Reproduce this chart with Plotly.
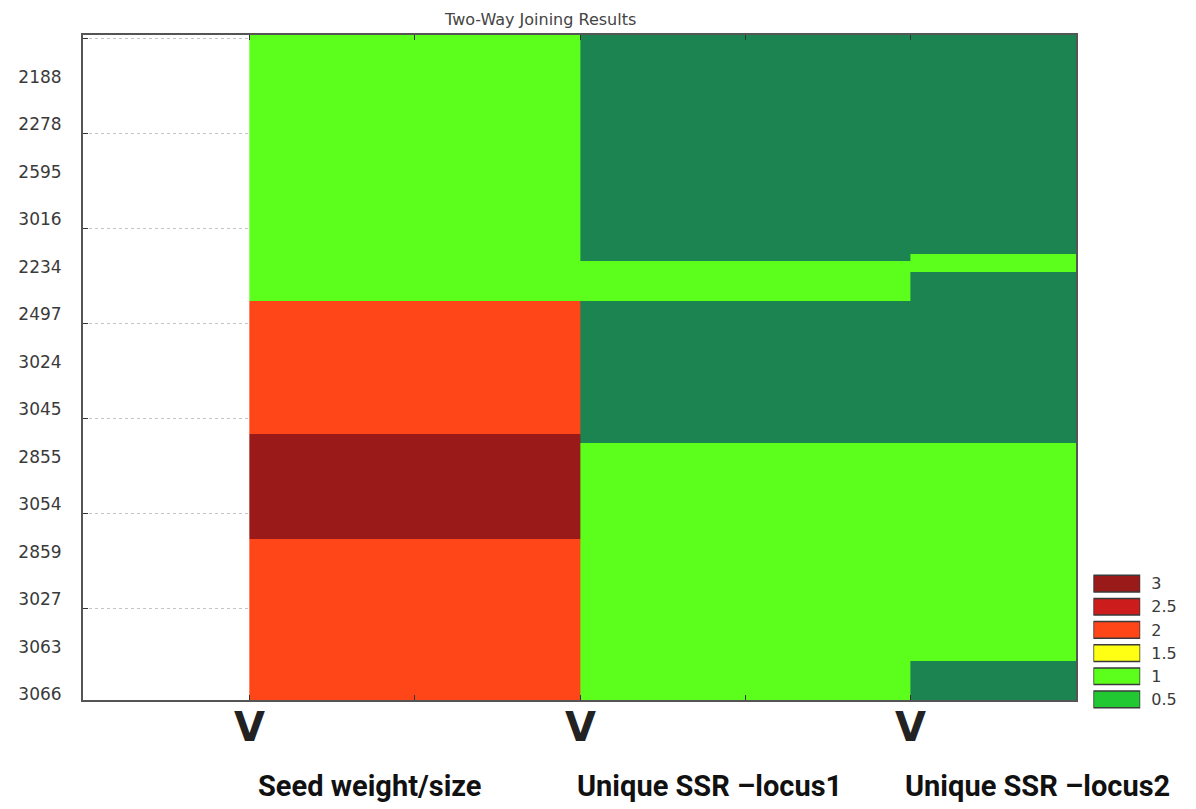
import plotly.graph_objects as go

# ---- data ----
row_labels = ["2188", "2278", "2595", "3016", "2234", "2497", "3024",
              "3045", "2855", "3054", "2859", "3027", "3063", "3066"]
columns = ["Seed weight/size", "Unique SSR \u2013locus1", "Unique SSR \u2013locus2"]
col_edges = [0, 1, 2, 2.5]
row_edges = [0, 4.60, 4.76, 4.99, 5.59, 8.39, 8.58, 10.60, 13.18, 14]
seed_weight = [1, 1, 1, 1, 2, 3, 3, 2, 2]
locus1 = [0, 0, 1, 1, 0, 0, 1, 1, 1]
locus2 = [0, 1, 1, 0, 0, 0, 1, 1, 0]
legend_values = ["3", "2.5", "2", "1.5", "1", "0.5"]
legend_colors = ["#9A1A1A", "#CC1C1C", "#FF4619", "#FFFF14", "#5CFF1C", "#22C832"]

DARK_GREEN = "#1B8450"
LIGHT_GREEN = "#5CFF1C"
ORANGE = "#FF4619"
DARK_RED = "#9A1A1A"

z = [[s, a, b] for s, a, b in zip(seed_weight, locus1, locus2)]

colorscale = [
    [0.0, DARK_GREEN], [1 / 6, DARK_GREEN],
    [1 / 6, LIGHT_GREEN], [0.5, LIGHT_GREEN],
    [0.5, ORANGE], [5 / 6, ORANGE],
    [5 / 6, DARK_RED], [1.0, DARK_RED],
]

fig = go.Figure()
fig.add_trace(go.Heatmap(
    x=col_edges, y=row_edges, z=z,
    zmin=0, zmax=3, colorscale=colorscale, showscale=False,
    hoverinfo="skip",
))

# legend boxes
fig.add_trace(go.Bar(
    x=[1] * len(legend_values), y=legend_values, orientation="h",
    marker=dict(color=legend_colors, line=dict(color="#3a3a3a", width=1.5)),
    width=0.72, xaxis="x3", yaxis="y3", showlegend=False, hoverinfo="skip",
))

n = len(row_labels)
label_pos = [k + 0.88 for k in range(n)]
minor_pos = [0.07 + 2 * k for k in range(7)]

axis_col = "#555555"
tick_font = dict(family="DejaVu Sans", size=17, color="#3a3a3a")
legend_font = dict(family="DejaVu Sans", size=16, color="#3a3a3a")
fig.update_layout(
    width=1188, height=801,
    margin=dict(l=70, r=10, t=27, b=95),
    paper_bgcolor="white", plot_bgcolor="white",
    showlegend=False,
    xaxis=dict(domain=[0, 997.5 / 1108], range=[-0.503, 2.5], showgrid=False,
               zeroline=False, showticklabels=False,
               tickvals=[0, 0.5, 1, 1.5, 2], ticks="inside", ticklen=5,
               tickcolor="#333333", showline=True, linecolor=axis_col, linewidth=2,
               mirror="allticks"),
    yaxis=dict(domain=[(706 - 692) / 679, 1], range=[14, 0], zeroline=False,
               tickvals=label_pos, ticktext=row_labels, ticks="",
               showgrid=False, ticklabelstandoff=16, tickfont=tick_font,
               showline=True, linecolor=axis_col, linewidth=2, mirror=True,
               minor=dict(tickvals=minor_pos, ticks="inside", ticklen=5,
                          tickcolor="#333333", showgrid=True, gridcolor="#c4c4c4",
                          griddash="dot", gridwidth=1)),
    xaxis3=dict(domain=[(1085 - 70) / 1108, (1132 - 70) / 1108], range=[0, 1],
                anchor="y3", showgrid=False, zeroline=False, showticklabels=False,
                fixedrange=True),
    yaxis3=dict(domain=[(706 - 703) / 679, (706 - 564) / 679], anchor="x3",
                type="category", categoryorder="array", categoryarray=legend_values,
                autorange="reversed", side="right", showgrid=False, zeroline=False,
                ticks="", ticklabelstandoff=10, tickfont=legend_font),
)

# chart title
fig.add_annotation(x=(529 - 70) / 1108, y=(706 - 11) / 679, xref="paper", yref="paper",
                   text="Two-Way Joining Results", showarrow=False,
                   xanchor="center", yanchor="middle", borderpad=0,
                   font=dict(family="DejaVu Sans", size=16, color="#444444"))

# arrows and column labels under the chart
label_shift = [7, -5, -8]
for i, name in enumerate(columns):
    fig.add_annotation(x=i, y=(706 - 719) / 679, xref="x", yref="paper",
                       text="<b>V</b>", showarrow=False, xanchor="center", yanchor="middle",
                       font=dict(family="DejaVu Sans", size=40, color="#222222"))
    fig.add_annotation(x=i, y=(706 - 778) / 679, xref="x", yref="paper",
                       text="<b>" + name + "</b>", showarrow=False, xanchor="left",
                       yanchor="middle", xshift=label_shift[i],
                       font=dict(family="Roboto", size=29, color="#111111"))

fig.write_html("out.html")
